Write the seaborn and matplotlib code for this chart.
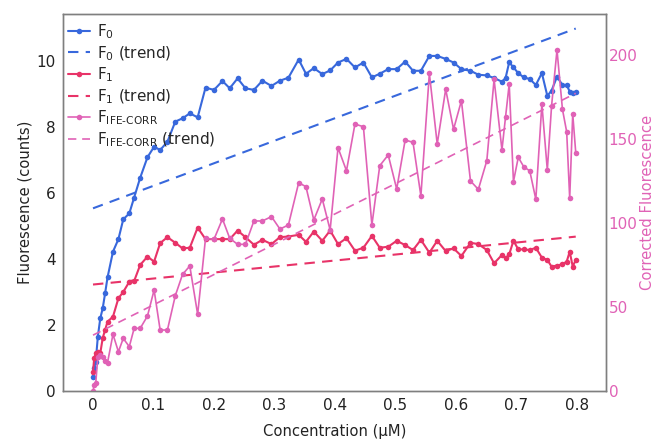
import numpy as np
import pandas as pd
import matplotlib
matplotlib.use("Agg")
import matplotlib.pyplot as plt
import seaborn as sns

# Titration series: concentration (µM) and measured fluorescence
concentration = [
    0.000, 0.002, 0.0045, 0.008, 0.012, 0.016, 0.020, 0.024, 0.033, 0.042,
    0.050, 0.060, 0.068, 0.078, 0.090, 0.101, 0.111, 0.123, 0.136, 0.148,
    0.160, 0.173, 0.186, 0.200, 0.214, 0.226, 0.239, 0.252, 0.266, 0.280,
    0.295, 0.309, 0.323, 0.340, 0.352, 0.365, 0.379, 0.392, 0.405, 0.419,
    0.433, 0.447, 0.461, 0.474, 0.488, 0.502, 0.516, 0.529, 0.542, 0.556,
    0.569, 0.583, 0.596, 0.609, 0.624, 0.637, 0.651, 0.663, 0.676, 0.682,
    0.688, 0.695, 0.703, 0.712, 0.722, 0.732, 0.742, 0.751, 0.758, 0.767,
    0.776, 0.783, 0.788, 0.793, 0.798,
]

f0 = [
    0.43, 0.69, 0.89, 1.65, 2.20, 2.50, 2.96, 3.44, 4.22, 4.60,
    5.20, 5.38, 5.86, 6.46, 7.08, 7.40, 7.30, 7.55, 8.16, 8.26,
    8.41, 8.29, 9.19, 9.12, 9.39, 9.17, 9.47, 9.17, 9.12, 9.40,
    9.24, 9.40, 9.49, 10.04, 9.61, 9.78, 9.60, 9.71, 9.95, 10.06,
    9.80, 9.95, 9.50, 9.61, 9.75, 9.75, 9.98, 9.70, 9.70, 10.15,
    10.15, 10.06, 9.95, 9.75, 9.70, 9.58, 9.56, 9.48, 9.37, 9.48,
    9.96, 9.80, 9.63, 9.50, 9.45, 9.27, 9.63, 8.94, 9.10, 9.52,
    9.27, 9.27, 9.07, 9.02, 9.07,
]

f1 = [
    0.58, 1.00, 1.14, 1.19, 1.14, 1.60, 1.85, 2.10, 2.25, 2.81,
    3.00, 3.31, 3.33, 3.82, 4.07, 3.92, 4.48, 4.66, 4.49, 4.32,
    4.34, 4.95, 4.60, 4.60, 4.60, 4.60, 4.86, 4.66, 4.43, 4.58,
    4.45, 4.66, 4.68, 4.73, 4.52, 4.83, 4.55, 4.86, 4.45, 4.63,
    4.25, 4.34, 4.70, 4.34, 4.37, 4.55, 4.42, 4.27, 4.58, 4.19,
    4.55, 4.24, 4.32, 4.09, 4.49, 4.45, 4.27, 3.87, 4.12, 4.02,
    4.14, 4.55, 4.29, 4.29, 4.27, 4.34, 4.04, 3.97, 3.77, 3.80,
    3.84, 3.92, 4.22, 3.77, 3.97,
]

f_ife_corr = [
    0.0, 3.6, 4.6, 20.4, 21.4, 20.4, 18.0, 16.9, 33.7, 23.4,
    31.3, 26.4, 37.3, 37.3, 44.6, 60.1, 36.3, 36.3, 56.7, 69.4,
    74.4, 45.6, 90.9, 90.3, 102.4, 90.9, 87.3, 87.3, 101.2, 101.2,
    103.8, 96.4, 98.8, 124.0, 121.6, 101.8, 114.3, 95.8, 144.8, 131.1,
    158.9, 157.3, 98.8, 134.1, 140.5, 120.2, 149.4, 148.0, 116.1, 189.1,
    147.0, 179.6, 155.8, 172.8, 125.0, 120.0, 137.1, 185.5, 143.5, 163.3,
    182.7, 124.6, 139.1, 133.5, 131.0, 114.1, 170.8, 131.5, 169.6, 203.0,
    167.7, 154.3, 114.7, 164.9, 141.8,
]

x_ticks = [0, 0.1, 0.2, 0.3, 0.4, 0.5, 0.6, 0.7, 0.8]
left_ticks = [0, 2, 4, 6, 8, 10]
right_ticks = [0, 50, 100, 150, 200]

df = pd.DataFrame({"conc": concentration, "F0": f0, "F1": f1, "Fcorr": f_ife_corr})

BLUE = "#3868dc"
RED = "#e83368"
PINK = "#e062b6"
SPINE = "#7f7f7f"
TEXT = "#222222"

sns.set_style("white")
plt.rcParams["font.family"] = ["DejaVu Sans"]
plt.rcParams["mathtext.default"] = "regular"

fig = plt.figure(figsize=(6.56, 4.41), dpi=100)
ax = fig.add_axes([63 / 656, 50 / 441, 543 / 656, 377 / 441])
ax2 = ax.twinx()

line_kw = dict(marker="o", markersize=4, markeredgewidth=0, linewidth=1.5)
dash_kw = dict(linestyle=(0, (5, 3.5)), linewidth=1.5)

sns.lineplot(data=df, x="conc", y="F0", ax=ax, color=BLUE, label="F$_0$", **line_kw)
sns.regplot(data=df, x="conc", y="F0", ax=ax, scatter=False, ci=None, color=BLUE,
            label="F$_0$ (trend)", line_kws=dash_kw)
sns.lineplot(data=df, x="conc", y="F1", ax=ax, color=RED, label="F$_1$", **line_kw)
sns.regplot(data=df, x="conc", y="F1", ax=ax, scatter=False, ci=None, color=RED,
            label="F$_1$ (trend)", line_kws=dash_kw)

sns.lineplot(data=df, x="conc", y="Fcorr", ax=ax2, color=PINK, label=r"F$_\text{IFE-CORR}$",
             marker="o", markersize=4, markeredgewidth=0, linewidth=1.2)
sns.regplot(data=df, x="conc", y="Fcorr", ax=ax2, scatter=False, ci=None, color=PINK,
            label=r"F$_\text{IFE-CORR}$ (trend)",
            line_kws=dict(linestyle=(0, (5, 3.5)), linewidth=1.2))

ax.set_xlim(-0.0496, 0.848)
ax.set_ylim(0, 11.42)
ax2.set_ylim(0, 224.4)

ax.set_xticks(x_ticks)
ax.set_xticklabels(["0" if t == 0 else f"{t:g}" for t in x_ticks])
ax.set_yticks(left_ticks)
ax2.set_yticks(right_ticks)

ax.tick_params(axis="both", length=0, labelsize=11, colors=TEXT, pad=5)
ax2.tick_params(axis="y", length=0, labelsize=11, colors=PINK, pad=2)

ax.set_xlabel("Concentration (µM)", fontsize=10.6, color=TEXT, labelpad=8)
ax.set_ylabel("Fluorescence (counts)", fontsize=10.6, color=TEXT, labelpad=3)
ax2.set_ylabel("Corrected Fluorescence", fontsize=10.6, color=PINK, labelpad=1.5)

for a in (ax, ax2):
    for s in a.spines.values():
        s.set_color(SPINE)
        s.set_linewidth(1.0)
    a.grid(False)

h1, l1 = ax.get_legend_handles_labels()
h2, l2 = ax2.get_legend_handles_labels()
if ax.get_legend() is not None:
    ax.get_legend().remove()
ax2.legend(h1 + h2, l1 + l2, loc="upper left", frameon=False, fontsize=11,
           handlelength=1.45, handletextpad=0.45, labelspacing=0.2,
           borderpad=0.3, borderaxespad=0.0, bbox_to_anchor=(0.0, 0.99))

fig.savefig("out.png", dpi=100)
